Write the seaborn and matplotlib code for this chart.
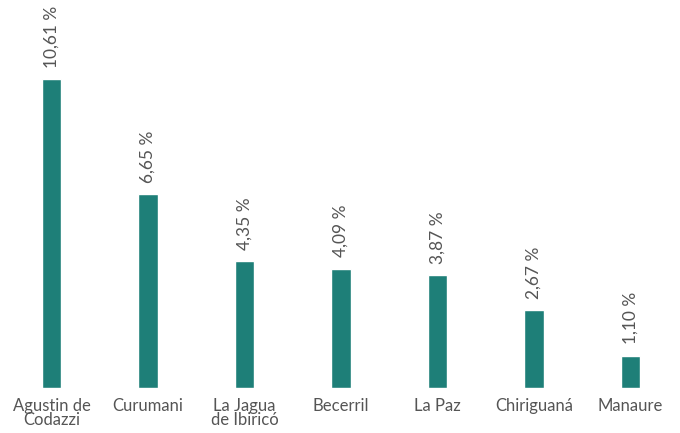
import matplotlib
matplotlib.use("Agg")
import matplotlib.pyplot as plt
import seaborn as sns
import pandas as pd

# Datos del gráfico
municipios = ["Agustin de\nCodazzi", "Curumani", "La Jagua\nde Ibiricó", "Becerril",
              "La Paz", "Chiriguaná", "Manaure"]
porcentajes = [10.61, 6.65, 4.35, 4.09, 3.87, 2.67, 1.10]

sns.set_style("white")
plt.rcParams['font.family'] = ['Lato', 'DejaVu Sans']

df = pd.DataFrame({"municipio": municipios, "pct": porcentajes})

fig = plt.figure(figsize=(6.8, 4.33), dpi=100)
ax = fig.add_axes([0.005, 0.104, 0.993, 0.896])

sns.barplot(data=df, x="municipio", y="pct", color="#1e7f78", width=0.2,
            saturation=1, ax=ax)

for i, v in enumerate(porcentajes):
    ax.text(i, v + 0.4, f"{v:.2f} %".replace(".", ","), rotation=90,
            ha="center", va="bottom", fontsize=12.5, color="#555555")

ax.set_xlim(-0.5, 6.5)
ax.set_ylim(0, 13.33)
ax.set_xlabel("")
ax.set_ylabel("")
ax.set_yticks([])
ax.tick_params(axis="x", length=0, pad=7, labelsize=12, labelcolor="#555555")
for lab in ax.get_xticklabels():
    lab.set_linespacing(0.85)
sns.despine(left=True, bottom=True)

fig.savefig("out.png", dpi=100)
